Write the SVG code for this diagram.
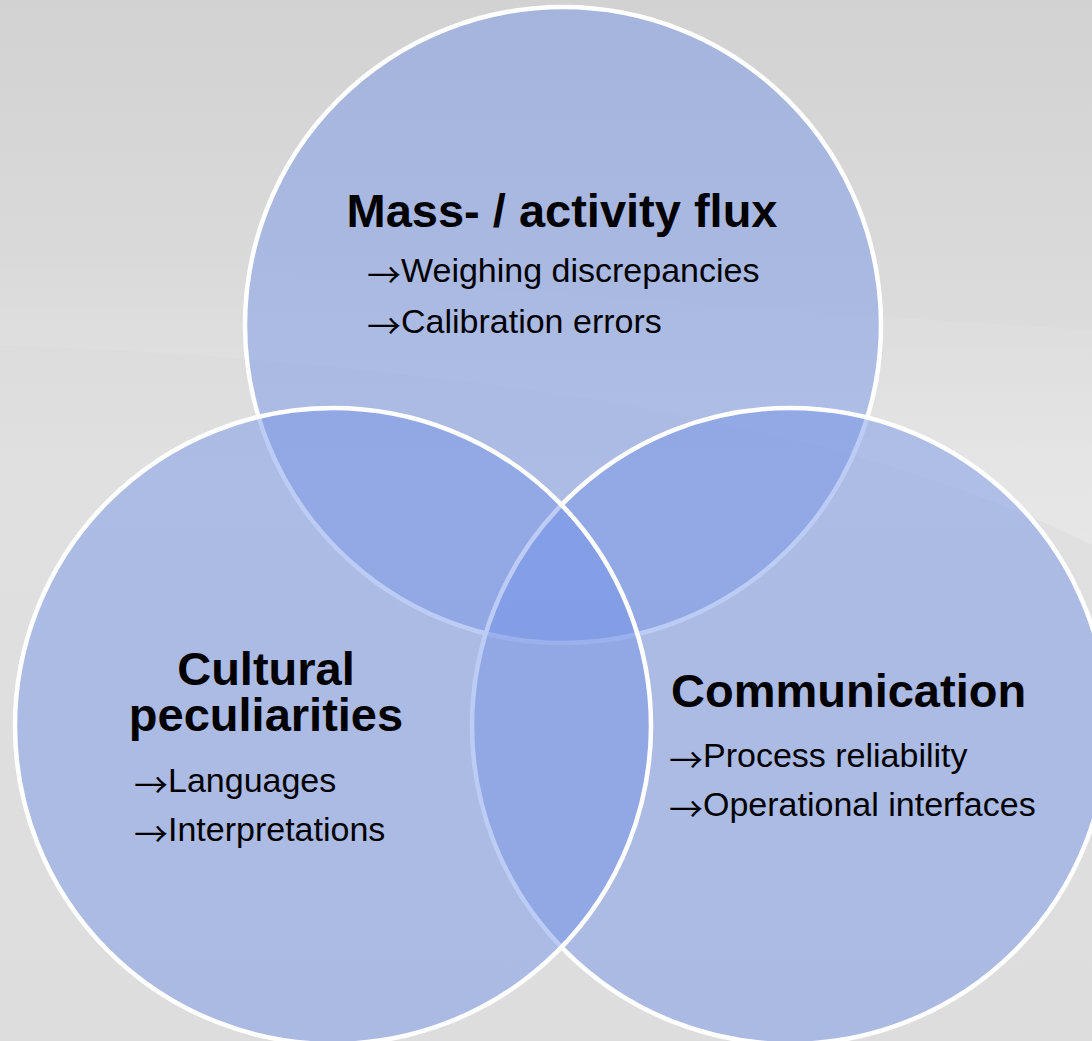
<svg xmlns="http://www.w3.org/2000/svg" width="1092" height="1041" viewBox="0 0 1092 1041">
  <defs>
    <linearGradient id="bg" x1="0" y1="0" x2="0" y2="1">
      <stop offset="0" stop-color="#D2D2D2"/>
      <stop offset="0.45" stop-color="#E0E0E0"/>
      <stop offset="1" stop-color="#DDDDDD"/>
    </linearGradient>
    <linearGradient id="swoosh" x1="0" y1="0" x2="0" y2="1">
      <stop offset="0" stop-color="#FFFFFF" stop-opacity="0"/>
      <stop offset="1" stop-color="#FFFFFF" stop-opacity="0.22"/>
    </linearGradient>
    <style>
      .circle { fill: rgb(117,148,233); fill-opacity: 0.48; stroke: #FFFFFF; stroke-width: 4.5; }
      .title { font-family: "Liberation Sans", Arial, sans-serif; font-weight: bold; font-size: 47px; fill: #000000; }
      .item { font-family: "Liberation Sans", Arial, sans-serif; font-size: 34px; fill: #000000; }
      .arr { font-family: "Noto Sans CJK SC", "DejaVu Sans", sans-serif; font-size: 34px; }
    </style>
  </defs>
  <rect x="0" y="0" width="1092" height="1041" fill="url(#bg)"/>
  <path d="M0,250 Q600,300 1092,330 L1092,545 Q900,450 600,400 Q300,355 0,345 Z" fill="url(#swoosh)"/>

  <g id="connectors"></g>

  <g id="node-mass">
    <circle class="circle" cx="563" cy="325" r="318"/>
    <text class="title" x="562" y="227" text-anchor="middle">Mass- / activity flux</text>
    <text class="item" x="367" y="282"><tspan class="arr" dy="6">→</tspan><tspan dy="-6">Weighing discrepancies</tspan></text>
    <text class="item" x="367" y="333"><tspan class="arr" dy="6">→</tspan><tspan dy="-6">Calibration errors</tspan></text>
  </g>

  <g id="node-communication">
    <circle class="circle" cx="790" cy="726" r="318"/>
    <text class="title" x="671" y="707">Communication</text>
    <text class="item" x="669" y="767"><tspan class="arr" dy="6">→</tspan><tspan dy="-6">Process reliability</tspan></text>
    <text class="item" x="669" y="816"><tspan class="arr" dy="6">→</tspan><tspan dy="-6">Operational interfaces</tspan></text>
  </g>

  <g id="node-cultural">
    <circle class="circle" cx="333" cy="726" r="318"/>
    <text class="title" x="266" y="685" text-anchor="middle">Cultural</text>
    <text class="title" x="266" y="731" text-anchor="middle">peculiarities</text>
    <text class="item" x="134" y="792"><tspan class="arr" dy="6">→</tspan><tspan dy="-6">Languages</tspan></text>
    <text class="item" x="134" y="841"><tspan class="arr" dy="6">→</tspan><tspan dy="-6">Interpretations</tspan></text>
  </g>
</svg>
